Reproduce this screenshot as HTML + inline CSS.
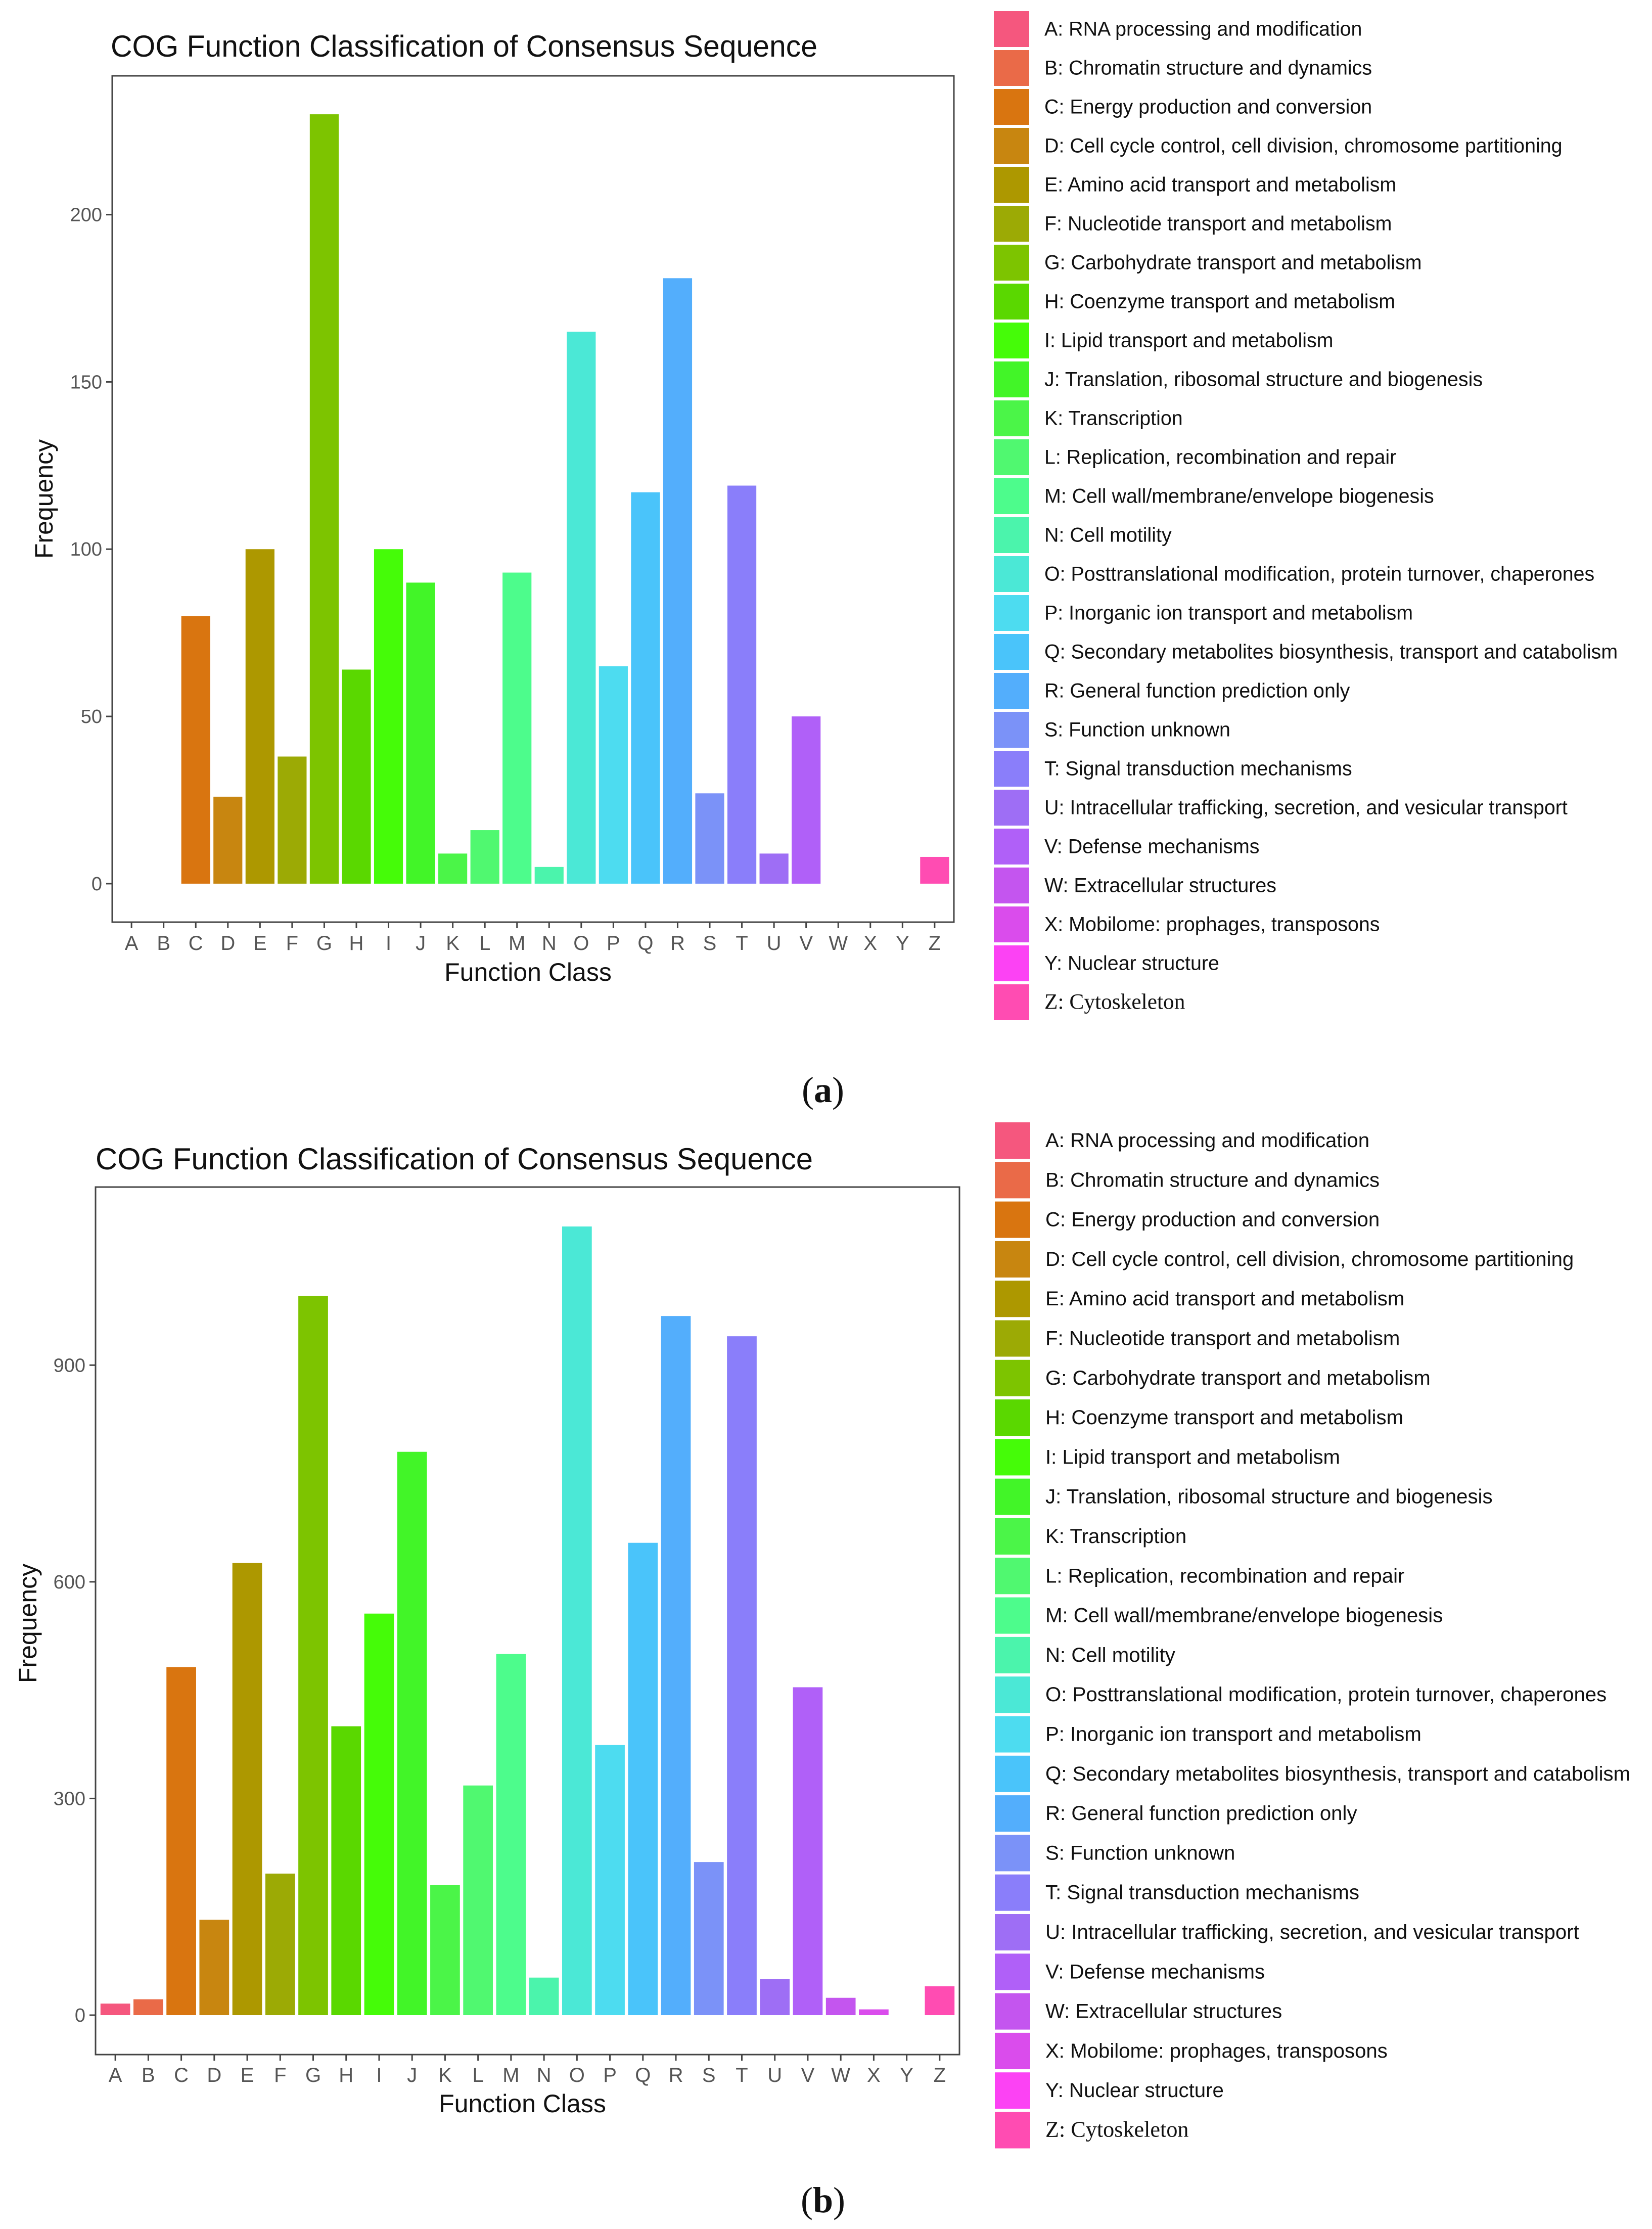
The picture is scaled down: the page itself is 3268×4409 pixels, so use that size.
<!DOCTYPE html>
<html><head><meta charset="utf-8">
<style>
html,body{margin:0;padding:0;background:#fff;}
svg{display:block;}
</style></head>
<body>
<svg id="root" xmlns="http://www.w3.org/2000/svg" width="3268" height="4409" viewBox="0 0 3268 4409">
<rect x="0" y="0" width="3268" height="4409" fill="#fff"/>
</svg>
<script>
const categories = ["A","B","C","D","E","F","G","H","I","J","K","L","M","N","O","P","Q","R","S","T","U","V","W","X","Y","Z"];
const valuesA = [0,0,80,26,100,38,230,64,100,90,9,16,93,5,165,65,117,181,27,119,9,50,0,0,0,8];
const valuesB = [16,22,482,132,626,196,996,400,556,780,180,318,500,52,1092,374,654,968,212,940,50,454,24,8,0,40];
const ticksA = [0,50,100,150,200];
const ticksB = [0,300,600,900];
const colors = ["#f5577e","#ea6a48","#d97510","#c88610","#ad9800","#9caa05","#7dc400","#5ad800","#45fc08","#42f528","#4bf548","#50f870","#4dfc8c","#4bf4ac","#4be8d6","#4ddcf0","#4ac4fa","#53aefc","#7b92f8","#8a7efa","#9e6ef5","#b060f8","#c455ef","#da4cec","#fc42f4","#ff4cb2"];
const legendLabels = ["A: RNA processing and modification","B: Chromatin structure and dynamics","C: Energy production and conversion","D: Cell cycle control, cell division, chromosome partitioning","E: Amino acid transport and metabolism","F: Nucleotide transport and metabolism","G: Carbohydrate transport and metabolism","H: Coenzyme transport and metabolism","I: Lipid transport and metabolism","J: Translation, ribosomal structure and biogenesis","K: Transcription","L: Replication, recombination and repair","M: Cell wall/membrane/envelope biogenesis","N: Cell motility","O: Posttranslational modification, protein turnover, chaperones","P: Inorganic ion transport and metabolism","Q: Secondary metabolites biosynthesis, transport and catabolism","R: General function prediction only","S: Function unknown","T: Signal transduction mechanisms","U: Intracellular trafficking, secretion, and vesicular transport","V: Defense mechanisms","W: Extracellular structures","X: Mobilome: prophages, transposons","Y: Nuclear structure","Z: Cytoskeleton"];

const NS = "http://www.w3.org/2000/svg";
const root = document.getElementById('root');
function mk(tag, attrs, parent, text){
  const e = document.createElementNS(NS, tag);
  for (const k in attrs) e.setAttribute(k, attrs[k]);
  if (text !== undefined) e.textContent = text;
  (parent||root).appendChild(e);
  return e;
}

function drawChart(cfg, values, ticks, tag){
  const g = mk('g', {});
  
  
  const maxV = Math.max(...values);
  const pad = maxV * 0.05;
  const y0 = -pad, y1 = maxV + pad;
  const yScale = v => cfg.bottom - (v - y0) / (y1 - y0) * (cfg.bottom - cfg.top);
  const step = (cfg.right - cfg.left) / (categories.length - 1 + 1.2);
  const xScale = i => cfg.left + (0.6 + i) * step;
  const bw = step * 0.9;

  const title = mk('text', {x: cfg.titleX, y: cfg.titleY, 'font-family': 'Liberation Sans, sans-serif', 'font-size': 60, fill: '#111', textLength: cfg.titleW, lengthAdjust: 'spacingAndGlyphs'}, g, 'COG Function Classification of Consensus Sequence');
  
  

  for (let i = 0; i < categories.length; i++){
    const v = values[i];
    if (v <= 0) continue;
    const yt = yScale(v), yb = yScale(0);
    const r = mk('rect', {x: xScale(i) - bw/2, y: yt, width: bw, height: yb - yt, fill: colors[i]}, g);
    
    
  }

  const frame = mk('rect', {x: cfg.left, y: cfg.top, width: cfg.right - cfg.left, height: cfg.bottom - cfg.top, fill: 'none', stroke: '#444', 'stroke-width': 3}, g);
  
  

  for (const t of ticks){
    const y = yScale(t);
    mk('line', {x1: cfg.left - 12, x2: cfg.left, y1: y, y2: y, stroke: '#444', 'stroke-width': 3}, g);
    const tl = mk('text', {x: cfg.left - 20, y: y + 13, 'text-anchor': 'end', 'font-family': 'Liberation Sans, sans-serif', 'font-size': 38, fill: '#555'}, g, String(t));
    
    
  }
  for (let i = 0; i < categories.length; i++){
    const x = xScale(i);
    mk('line', {x1: x, x2: x, y1: cfg.bottom, y2: cfg.bottom + 12, stroke: '#444', 'stroke-width': 3}, g);
    const xl = mk('text', {x: x, y: cfg.xLabY, 'text-anchor': 'middle', 'font-family': 'Liberation Sans, sans-serif', 'font-size': 40, fill: '#555'}, g, categories[i]);
    
    
  }
  const xt = mk('text', {x: (cfg.left + cfg.right)/2 - 10, y: cfg.xTitleY, 'text-anchor': 'middle', 'font-family': 'Liberation Sans, sans-serif', 'font-size': 50, fill: '#111'}, g, 'Function Class');
  
  
  const yt = mk('text', {x: 0, y: 0, 'text-anchor': 'middle', 'font-family': 'Liberation Sans, sans-serif', 'font-size': 50, fill: '#111', transform: 'translate(' + cfg.yTitleX + ',' + cfg.yTitleY + ') rotate(-90)'}, g, 'Frequency');
  
  

  const lg = mk('g', {}, g);
  
  
  for (let i = 0; i < categories.length; i++){
    const top = cfg.legTop + i * cfg.legStep;
    const sw = mk('rect', {x: cfg.legX, y: top, width: 70, height: cfg.legH, fill: colors[i]}, lg);
    
    
    const isZ = categories[i] === 'Z';
    const lt = mk('text', {x: cfg.legX + 100, y: top + cfg.legH/2 + 13, 'font-family': isZ ? 'Liberation Serif, serif' : 'Liberation Sans, sans-serif', 'font-size': isZ ? cfg.legFont + 4 : cfg.legFont, fill: '#111'}, lg, legendLabels[i]);
    
    
  }
}

drawChart({left: 222, right: 1887, top: 150, bottom: 1824, titleX: 219, titleY: 112, titleW: 1398, xLabY: 1879, xTitleY: 1940, yTitleX: 104, yTitleY: 987, legX: 1966, legTop: 22, legStep: 77, legH: 71, legFont: 39.4}, valuesA, ticksA, 'a');
drawChart({left: 189, right: 1898, top: 2348, bottom: 4064, titleX: 189, titleY: 2313, titleW: 1419, xLabY: 4118, xTitleY: 4178, yTitleX: 72, yTitleY: 3211, legX: 1968, legTop: 2220, legStep: 78.3, legH: 72, legFont: 40.2}, valuesB, ticksB, 'b');

const pa = mk('text', {x: 1628, y: 2180, 'text-anchor': 'middle', 'font-family': 'Liberation Serif, serif', 'font-size': 72, fill: '#111'}, root);


pa.innerHTML = '(<tspan font-weight="bold">a</tspan>)';
const pb = mk('text', {x: 1628, y: 4376, 'text-anchor': 'middle', 'font-family': 'Liberation Serif, serif', 'font-size': 72, fill: '#111'}, root);


pb.innerHTML = '(<tspan font-weight="bold">b</tspan>)';
</script>
</body></html>
